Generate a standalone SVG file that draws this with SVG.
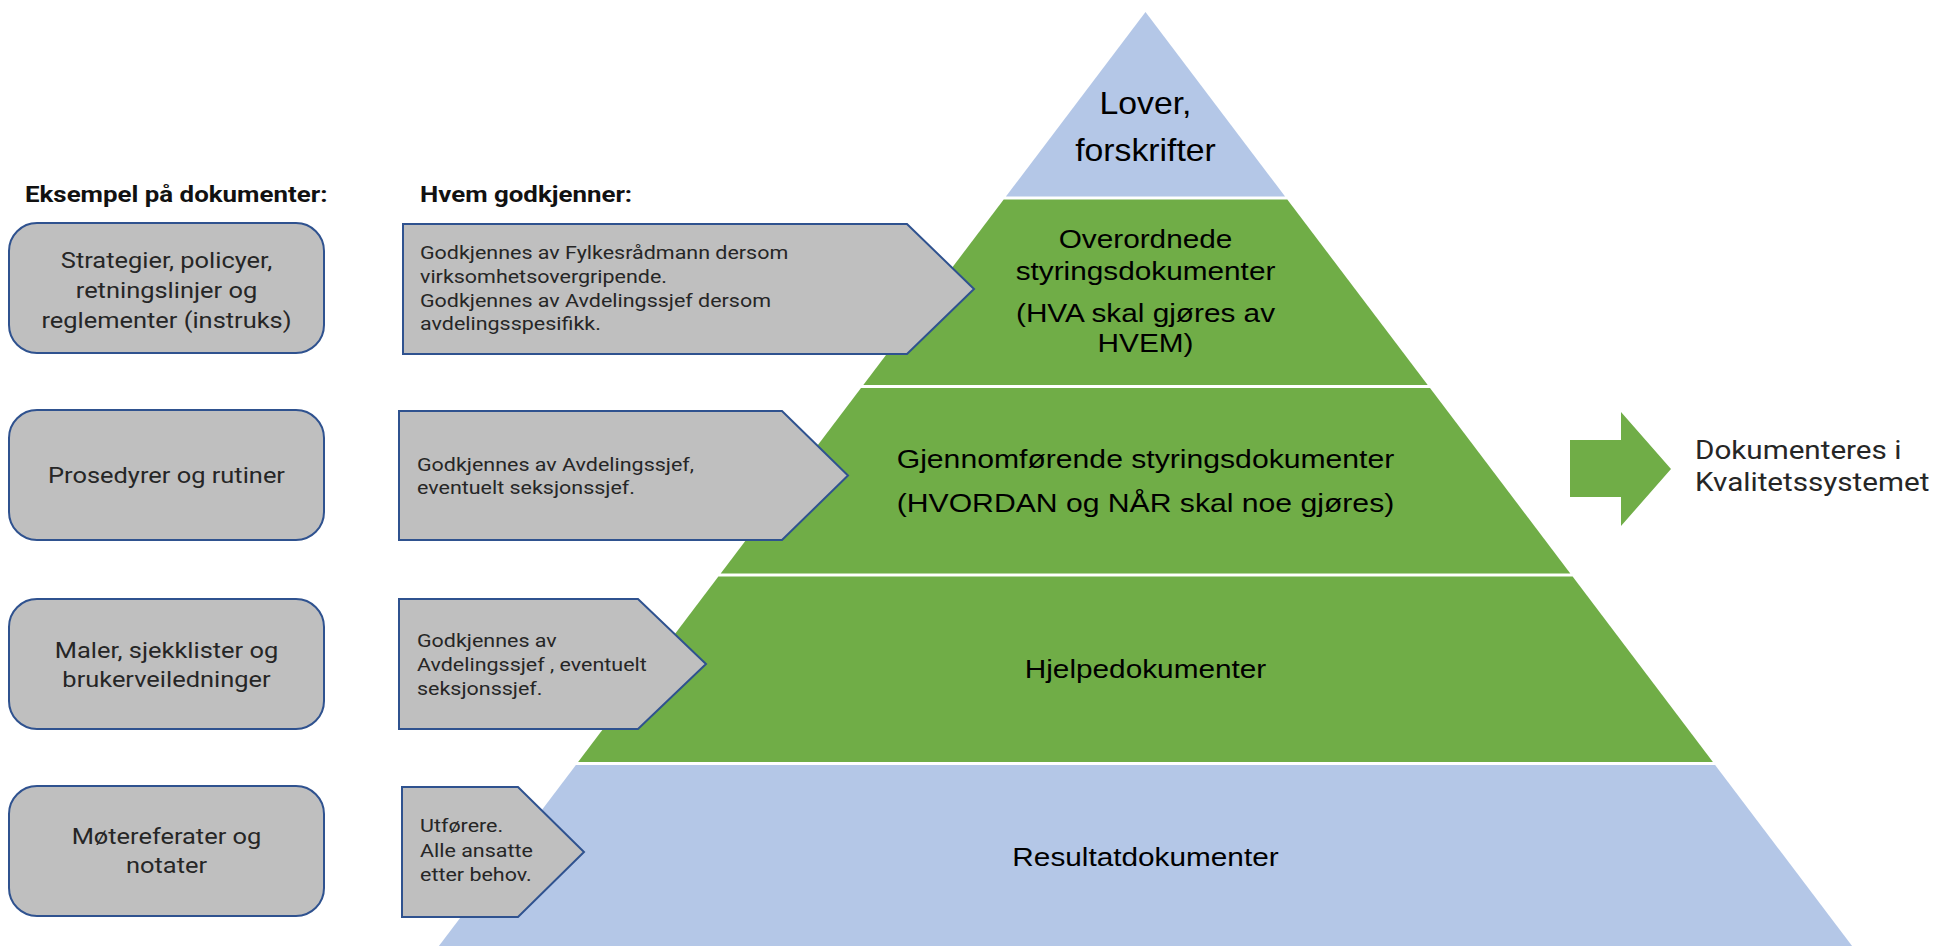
<svg xmlns="http://www.w3.org/2000/svg" width="1939" height="946" viewBox="0 0 1939 946">
<style>
.blue{fill:#B4C7E7}
.green{fill:#70AD47}
.pt{font-family:"Liberation Sans",Arial,sans-serif;font-size:26px;fill:#000;text-anchor:middle}
.box{fill:#BFBFBF;stroke:#2F528F;stroke-width:2}
.bt{font-family:Roboto,"Liberation Sans",sans-serif;font-size:22.5px;fill:#262626;text-anchor:middle}
.at{font-family:Roboto,"Liberation Sans",sans-serif;font-size:19px;fill:#262626}
.hd{font-family:Roboto,"Liberation Sans",sans-serif;font-size:22.5px;font-weight:bold;fill:#111}
.rt{font-family:Roboto,"Liberation Sans",sans-serif;font-size:26px;fill:#262626}
</style>
<rect width="1939" height="946" fill="#fff"/>
<g id="pyramid">
  <g id="layer-lover">
    <polygon class="blue" points="1145.5,12 1285.1,196.5 1005.9,196.5"/>
    <text class="pt" style="font-size:31px" transform="translate(1145.5,114) scale(1.09,1)"><tspan x="0" y="0">Lover,</tspan><tspan x="0" y="47">forskrifter</tspan></text>
  </g>
  <g id="layer-overordnede">
    <polygon class="green" points="1003.7,199.5 1287.3,199.5 1427.7,385 863.3,385"/>
    <text class="pt" transform="translate(1145.5,248) scale(1.145,1)"><tspan x="0" y="0">Overordnede</tspan><tspan x="0" y="32">styringsdokumenter</tspan><tspan x="0" y="74">(HVA skal gjøres av</tspan><tspan x="0" y="104">HVEM)</tspan></text>
  </g>
  <g id="layer-gjennomforende">
    <polygon class="green" points="861,388 1430,388 1570.3,573.5 720.7,573.5"/>
    <text class="pt" transform="translate(1145.5,468) scale(1.16,1)"><tspan x="0" y="0">Gjennomførende styringsdokumenter</tspan><tspan x="0" y="44">(HVORDAN og NÅR skal noe gjøres)</tspan></text>
  </g>
  <g id="layer-hjelpe">
    <polygon class="green" points="718.4,576.5 1572.6,576.5 1712.9,762 578.1,762"/>
    <text class="pt" transform="translate(1145.5,678) scale(1.145,1)">Hjelpedokumenter</text>
  </g>
  <g id="layer-resultat">
    <polygon class="blue" points="575.9,765 1715.1,765 1852.1,946 438.9,946"/>
    <text class="pt" transform="translate(1145.5,866) scale(1.145,1)">Resultatdokumenter</text>
  </g>
</g>
<g id="headers">
  <text class="hd" transform="translate(25,202) scale(1.15,1)">Eksempel på dokumenter:</text>
  <text class="hd" transform="translate(420,202) scale(1.15,1)">Hvem godkjenner:</text>
</g>
<g id="doc-strategier">
  <rect class="box" x="9" y="223" width="315" height="130" rx="28"/>
  <text class="bt" transform="translate(166.5,268) scale(1.13,1)"><tspan x="0" y="0">Strategier, policyer,</tspan><tspan x="0" y="30">retningslinjer og</tspan><tspan x="0" y="60">reglementer (instruks)</tspan></text>
</g>
<g id="doc-prosedyrer">
  <rect class="box" x="9" y="410" width="315" height="130" rx="28"/>
  <text class="bt" transform="translate(166.5,483) scale(1.13,1)">Prosedyrer og rutiner</text>
</g>
<g id="doc-maler">
  <rect class="box" x="9" y="599" width="315" height="130" rx="28"/>
  <text class="bt" transform="translate(166.5,658) scale(1.13,1)"><tspan x="0" y="0">Maler, sjekklister og</tspan><tspan x="0" y="29">brukerveiledninger</tspan></text>
</g>
<g id="doc-motereferater">
  <rect class="box" x="9" y="786" width="315" height="130" rx="28"/>
  <text class="bt" transform="translate(166.5,844) scale(1.13,1)"><tspan x="0" y="0">Møtereferater og</tspan><tspan x="0" y="29">notater</tspan></text>
</g>
<g id="approve-1">
  <polygon class="box" points="403,224 907,224 974,289 907,354 403,354"/>
  <text class="at" transform="translate(420,259) scale(1.13,1)"><tspan x="0" y="0">Godkjennes av Fylkesrådmann dersom</tspan><tspan x="0" y="24">virksomhetsovergripende.</tspan><tspan x="0" y="48">Godkjennes av Avdelingssjef dersom</tspan><tspan x="0" y="71">avdelingsspesifikk.</tspan></text>
</g>
<g id="approve-2">
  <polygon class="box" points="399,411 782,411 848,475.5 782,540 399,540"/>
  <text class="at" transform="translate(417,471) scale(1.13,1)"><tspan x="0" y="0">Godkjennes av Avdelingssjef,</tspan><tspan x="0" y="23">eventuelt seksjonssjef.</tspan></text>
</g>
<g id="approve-3">
  <polygon class="box" points="399,599 638,599 706,664 638,729 399,729"/>
  <text class="at" transform="translate(417,647) scale(1.13,1)"><tspan x="0" y="0">Godkjennes av</tspan><tspan x="0" y="24">Avdelingssjef , eventuelt</tspan><tspan x="0" y="48">seksjonssjef.</tspan></text>
</g>
<g id="approve-4">
  <polygon class="box" points="402,787 518,787 584,852 518,917 402,917"/>
  <text class="at" transform="translate(420,832) scale(1.13,1)"><tspan x="0" y="0">Utførere.</tspan><tspan x="0" y="25">Alle ansatte</tspan><tspan x="0" y="49">etter behov.</tspan></text>
</g>
<g id="connectors">
  <polygon class="green" points="1570,440 1621,440 1621,412 1671,469 1621,526 1621,497 1570,497"/>
</g>
<g id="kvalitetssystem">
  <text class="rt" transform="translate(1695,459) scale(1.14,1)"><tspan x="0" y="0">Dokumenteres i</tspan><tspan x="0" y="32">Kvalitetssystemet</tspan></text>
</g>
</svg>
